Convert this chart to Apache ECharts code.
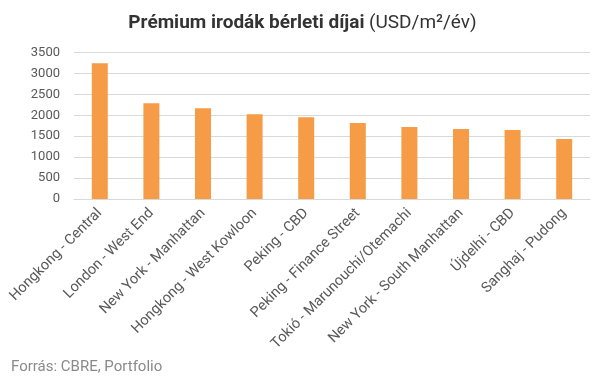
<!DOCTYPE html>
<html><head><meta charset="utf-8">
<script src="https://cdn.jsdelivr.net/npm/echarts@6/dist/echarts.min.js"></script>
<style>html,body{margin:0;padding:0;background:#fff}#c{width:605px;height:378px}</style>
</head><body><div id="c"></div>
<script>
const categories = ["Hongkong - Central","London - West End","New York - Manhattan","Hongkong - West Kowloon","Peking - CBD","Peking - Finance Street","Tokió - Marunouchi/Otemachi","New York - South Manhattan","Újdelhi - CBD","Sanghaj - Pudong"];
const values = [3245, 2290, 2170, 2025, 1955, 1815, 1718, 1670, 1647, 1432];
const yTicks = [0, 500, 1000, 1500, 2000, 2500, 3000, 3500];

const chart = echarts.init(document.getElementById('c'));
chart.setOption({
  animation: false,
  textStyle: { fontFamily: 'Roboto' },
  title: {
    text: '{b|Prémium irodák bérleti díjai} {n|(USD/m²/év)}',
    left: 'center', top: 9,
    textStyle: {
      rich: {
        b: { fontFamily: 'Roboto', fontWeight: 'bold', fontSize: 19, color: '#333333' },
        n: { fontFamily: 'Roboto', fontWeight: 'normal', fontSize: 19, color: '#333333' }
      }
    }
  },
  graphic: [{
    type: 'text', left: 11, top: 360,
    style: { text: 'Forrás: CBRE, Portfolio', fontFamily: 'Roboto', fontSize: 15, fill: '#8a8a8a' }
  }],
  grid: { left: 74, right: 15, top: 52.5, bottom: 179, containLabel: false },
  xAxis: {
    type: 'category', data: categories,
    axisLine: { show: true, lineStyle: { color: '#d9d9d9', width: 1 } },
    axisTick: { show: false },
    axisLabel: { rotate: 45, interval: 0, color: '#595959', fontSize: 14.5, margin: 12, fontFamily: 'Roboto' }
  },
  yAxis: {
    type: 'value', min: yTicks[0], max: yTicks[yTicks.length - 1], interval: 500,
    axisLine: { show: false }, axisTick: { show: false },
    axisLabel: { color: '#595959', fontSize: 13, margin: 14, fontFamily: 'Roboto', formatter: v => String(v) },
    splitLine: { lineStyle: { color: '#d9d9d9', width: 1 } }
  },
  series: [{
    type: 'bar', data: values, barWidth: '31%',
    itemStyle: { color: '#F69B46' }
  }]
});
</script></body></html>
